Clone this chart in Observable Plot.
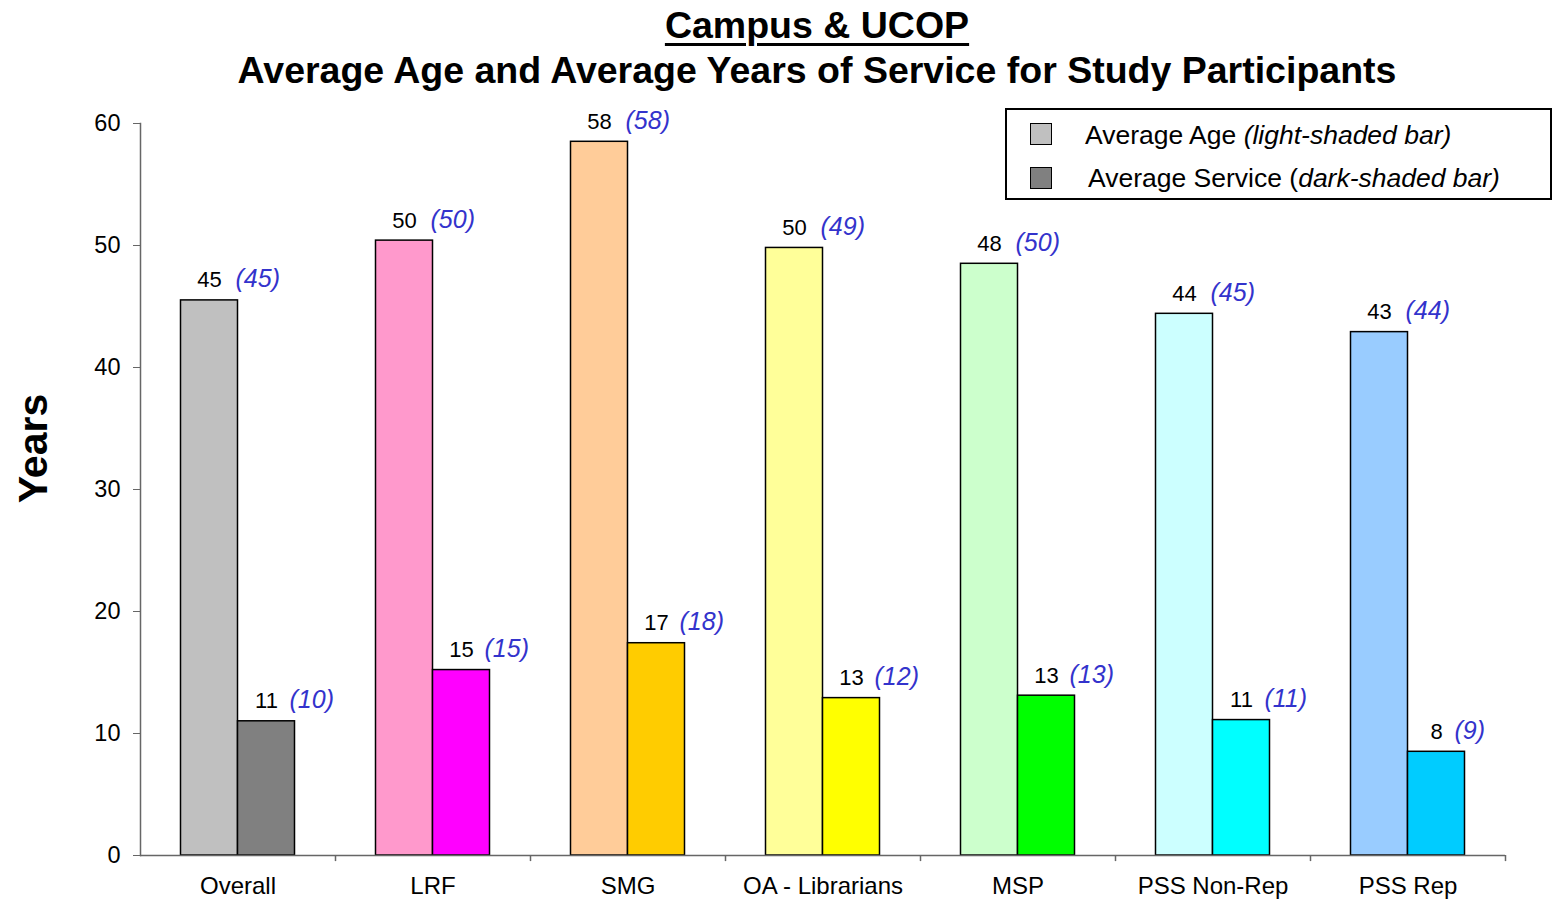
<!DOCTYPE html>
<html>
<head>
<meta charset="utf-8">
<script src="https://cdn.jsdelivr.net/npm/d3@7"></script>
<script src="https://cdn.jsdelivr.net/npm/@observablehq/plot@0.6"></script>
<style>
  body { margin: 0; background: #fff; font-family: "Liberation Sans", Arial, sans-serif; }
  #wrap { position: relative; width: 1552px; height: 902px; overflow: hidden; background: #fff; }
  .title { position: absolute; left: 41px; width: 1552px; text-align: center; font-weight: bold; font-size: 37.5px; line-height: 44px; color: #000; white-space: nowrap; }
  #t1 { top: 3px; }
  #t1 span { text-decoration: underline; text-decoration-thickness: 3px; text-underline-offset: 5px; }
  #t2 { top: 48px; }
  #chart { position: absolute; left: 0; top: 100px; }
  #legend { position: absolute; left: 1005px; top: 108px; width: 543px; height: 88px; border: 2px solid #000; background: #fff; }
  .sw { position: absolute; left: 23px; width: 20px; height: 20px; border: 1.5px solid #000; }
  .lt { position: absolute; font-size: 26.5px; line-height: 26.5px; white-space: nowrap; color: #000; }
</style>
</head>
<body>
<div id="wrap">
  <div class="title" id="t1"><span>Campus &amp; UCOP</span></div>
  <div class="title" id="t2">Average Age and Average Years of Service for Study Participants</div>
  <div id="chart"></div>
  <div id="legend"></div>
</div>
<script>
// ---- Data ----
const categories = ["Overall", "LRF", "SMG", "OA - Librarians", "MSP", "PSS Non-Rep", "PSS Rep"];
const ageValues = [45.5, 50.4, 58.5, 49.8, 48.5, 44.4, 42.9];
const serviceValues = [11.0, 15.2, 17.4, 12.9, 13.1, 11.1, 8.5];
const ageLabels = ["45", "50", "58", "50", "48", "44", "43"];
const serviceLabels = ["11", "15", "17", "13", "13", "11", "8"];
const agePrior = ["(45)", "(50)", "(58)", "(49)", "(50)", "(45)", "(44)"];
const servicePrior = ["(10)", "(15)", "(18)", "(12)", "(13)", "(11)", "(9)"];
const lightColors = ["#c0c0c0", "#ff99cc", "#ffcc99", "#ffff99", "#ccffcc", "#ccffff", "#99ccff"];
const darkColors = ["#808080", "#ff00ff", "#ffcc00", "#ffff00", "#00ff00", "#00ffff", "#00ccff"];
const yTicks = [0, 10, 20, 30, 40, 50, 60];
const legendItems = [
  {plain: "Average Age ", italic: "(light-shaded bar)", color: "#c0c0c0"},
  {plain: "Average Service (", italic: "dark-shaded bar)", color: "#808080"}
];

// ---- Tables built from arrays ----
const ageRows = categories.map((c, i) => ({cat: c, value: ageValues[i], label: ageLabels[i], prior: agePrior[i], color: lightColors[i]}));
const serviceRows = categories.map((c, i) => ({cat: c, value: serviceValues[i], label: serviceLabels[i], prior: servicePrior[i], color: darkColors[i]}));

const half = 28.5;
const blue = "#3333cc";
const labelFont = 22;
const priorFont = 25;

const chart = Plot.plot({
  width: 1552,
  height: 802,
  marginTop: 23,
  marginBottom: 47,
  marginLeft: 140,
  marginRight: 47,
  x: {domain: categories, padding: 0, label: null},
  y: {domain: [0, 60], label: null},
  color: {type: "identity"},
  style: {fontFamily: "'Liberation Sans', Arial, sans-serif", fontSize: "22px", color: "#000", background: "#fff"},
  marks: [
    Plot.barY(ageRows, {x: "cat", y: "value", fill: "color", stroke: "#000", strokeWidth: 1.5, insetLeft: 40.5, insetRight: 97.5}),
    Plot.barY(serviceRows, {x: "cat", y: "value", fill: "color", stroke: "#000", strokeWidth: 1.5, insetLeft: 97.5, insetRight: 40.5}),
    Plot.text(ageRows, {x: "cat", y: "value", text: "label", dx: -half, dy: -13, lineAnchor: "bottom", textAnchor: "middle", fontSize: labelFont, fill: "#000"}),
    Plot.text(serviceRows, {x: "cat", y: "value", text: "label", dx: half, dy: -13, lineAnchor: "bottom", textAnchor: "middle", fontSize: labelFont, fill: "#000"}),
    Plot.text(ageRows, {x: "cat", y: "value", text: "prior", dx: -half + 26, dy: -13, lineAnchor: "bottom", textAnchor: "start", fontSize: priorFont, fontStyle: "italic", fill: blue}),
    Plot.text(serviceRows.filter(d => d.label.length > 1), {x: "cat", y: "value", text: "prior", dx: half + 23, dy: -13, lineAnchor: "bottom", textAnchor: "start", fontSize: priorFont, fontStyle: "italic", fill: blue}),
    Plot.text(serviceRows.filter(d => d.label.length === 1), {x: "cat", y: "value", text: "prior", dx: half + 18, dy: -13, lineAnchor: "bottom", textAnchor: "start", fontSize: priorFont, fontStyle: "italic", fill: blue}),
    Plot.ruleY([0], {stroke: "#666", strokeWidth: 1.5}),
    Plot.frame({anchor: "left", stroke: "#666", strokeWidth: 1.5}),
    Plot.ruleX(categories, {x: d => d, y1: 0, y2: -0.5, dx: 97.5, stroke: "#666", strokeWidth: 1.5}),
    Plot.axisY({ticks: yTicks, tickSize: 7, tickPadding: 13, stroke: "#666", label: null, fontSize: 23.5}),
    Plot.axisX({tickSize: 0, tickPadding: 21, label: null, fontSize: 24}),
    Plot.text(["Years"], {frameAnchor: "left", dx: -107, dy: -41, rotate: -90, text: d => d, fontSize: 41, fontWeight: "bold", textAnchor: "middle", lineAnchor: "middle", fill: "#000"})
  ]
});
document.getElementById("chart").appendChild(chart);

// ---- Legend (HTML, from legendItems) ----
const legend = document.getElementById("legend");
const swTops = [13, 57];
const txtTops = [12, 55];
const txtLefts = [78, 81];
legendItems.forEach((it, i) => {
  const sw = document.createElement("div");
  sw.className = "sw";
  sw.style.top = swTops[i] + "px";
  sw.style.background = it.color;
  legend.appendChild(sw);
  const t = document.createElement("div");
  t.className = "lt";
  t.style.top = txtTops[i] + "px";
  t.style.left = txtLefts[i] + "px";
  t.appendChild(document.createTextNode(it.plain));
  const em = document.createElement("i");
  em.textContent = it.italic;
  t.appendChild(em);
  legend.appendChild(t);
});
</script>
</body>
</html>
